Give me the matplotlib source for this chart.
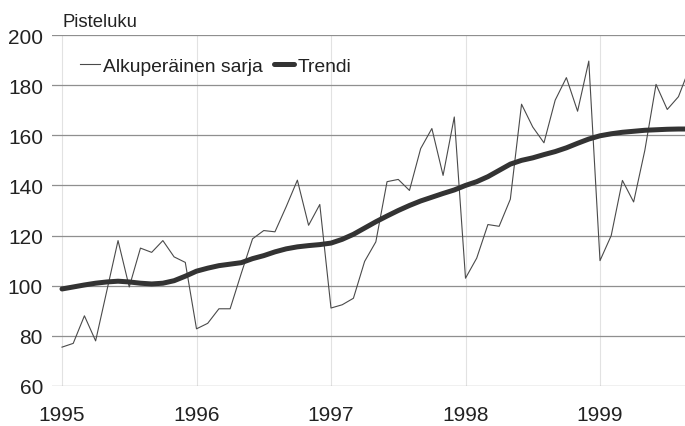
import numpy as np
import matplotlib
matplotlib.use("Agg")
import matplotlib.pyplot as plt

plt.rcParams['font.family'] = ['Liberation Sans', 'DejaVu Sans']

start_year = 1995
original = [
    75.5, 77, 88, 78, 98, 118, 99.5, 115, 113.3, 118, 111.5, 109.3,
    82.8, 85, 90.8, 90.8, 105, 118.7, 122, 121.5, 131.5, 142.1, 124.1, 132.4,
    91.1, 92.4, 95, 109.7, 117.5, 141.5, 142.4, 138, 154.7, 162.7, 144, 167.3,
    103, 111, 124.4, 123.7, 134.5, 172.4, 163.3, 157, 174, 183, 169.6, 189.6,
    110, 120, 142, 133.4, 154, 180.3, 170.3, 175.4, 187,
]
trend = [
    98.7, 99.5, 100.3, 101, 101.5, 101.8, 101.5, 101, 100.7, 101, 102, 103.8,
    105.8, 107, 108, 108.6, 109.2, 110.8, 112, 113.5, 114.7, 115.5, 116, 116.4,
    117, 118.5, 120.5, 123, 125.5, 127.8, 130, 132, 133.8, 135.3, 136.8, 138.2,
    140, 141.5, 143.5, 146, 148.5, 150, 151, 152.3, 153.5, 155, 156.8, 158.5,
    159.8, 160.6, 161.2, 161.6, 162, 162.2, 162.4, 162.5, 162.5,
]
year_ticks = [1995, 1996, 1997, 1998, 1999]
y_ticks = [60, 80, 100, 120, 140, 160, 180, 200]
label_orig = "Alkuperäinen sarja"
label_trend = "Trendi"
y_title = "Pisteluku"

x = start_year + np.arange(len(original)) / 12.0

fig = plt.figure(figsize=(6.85, 4.27), dpi=100)
ax = fig.add_axes([52 / 685, 40 / 427, 1 - 52 / 685, 351 / 427])

ax.plot(x, original, color='#4a4a4a', lw=0.8, label=label_orig, zorder=3)
ax.plot(x, trend, color='#333333', lw=3.6, label=label_trend, zorder=4,
        solid_capstyle='round')

ax.set_xlim(1995 - 10 / 134.5, 1995 + (685 - 62) / 134.5)
ax.set_ylim(60, 200)
ax.set_xticks(year_ticks)
ax.set_xticklabels([str(v) for v in year_ticks])
ax.set_yticks(y_ticks)
ax.grid(axis='y', color='#8f8f8f', lw=0.9, zorder=1)
ax.grid(axis='x', color='#e2e2e2', lw=0.8, zorder=1)
for s in ax.spines.values():
    s.set_visible(False)
ax.tick_params(axis='both', length=0, labelsize=15, colors='#222222')
ax.tick_params(axis='y', pad=6.5)
ax.tick_params(axis='x', pad=14)

fig.text(62 / 685, 1 - 27 / 427, y_title, fontsize=13.3, color='#222222',
         ha='left', va='baseline')

leg = ax.legend(loc='upper left', bbox_to_anchor=(0.016, 0.985), frameon=False,
                ncol=2, fontsize=13.9, handlelength=1.05, handletextpad=0.15,
                columnspacing=0.6, labelcolor='#222222')

fig.savefig('out.png', dpi=100)
